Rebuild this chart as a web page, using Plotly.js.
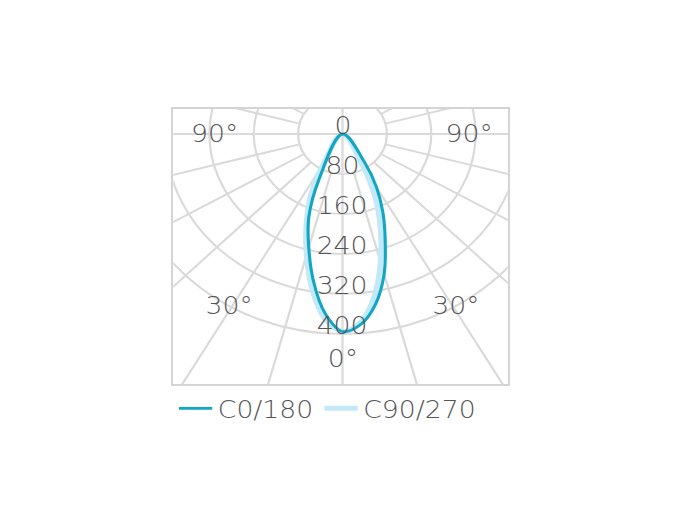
<!DOCTYPE html>
<html>
<head>
<meta charset="utf-8">
<script src="https://cdn.plot.ly/plotly-3.0.1.min.js"></script>
<style>
html,body{margin:0;padding:0;background:#fff;overflow:hidden;}
#wrap{width:680px;height:510px;overflow:hidden;}
#chart{width:612px;height:510px;transform:scaleX(1.1111111);transform-origin:0 0;}
</style>
</head>
<body>
<div id="wrap"><div id="chart"></div></div>
<script>
// Photometric polar diagram (cd), angles measured from nadir
const angles = [0,5,10,15,20,25,30,35,40,45,50,55,60,65,70,75,80,85,90];
const c0   = [395,382,345,290,225,172,122,70,0,0,0,0,0,0,0,0,0,0,0];
const c180 = [395,360,300,235,178,100,0,0,0,0,0,0,0,0,0,0,0,0,0];
const c90  = [395,378,330,265,200,140,72,0,0,0,0,0,0,0,0,0,0,0,0];
const c270 = [395,370,315,250,190,135,67,0,0,0,0,0,0,0,0,0,0,0,0];
const seriesNames = ['C0/180','C90/270'];
const ringValues = [80,160,240,320,400];
const ringLabels = ['0','80','160','240','320','400'];
const gridAngles = [0,15,30,45,60,75,90,105,120,135,150,165,180,195,210,225,240,255,270,285,300,315,330,345];
const angleLabels = ['90°','90°','30°','30°','0°'];
const angleLabelPos = [[-229,0],[229,0],[-204,-344],[204,-344],[0,-450]];

const rad = d => d*Math.PI/180;
function lastIdx(vals){ let i=0; while(i<vals.length-1 && vals[i]>0) i++; return i; }
function curve(leftVals, rightVals){
  const x=[], y=[];
  for(let i=lastIdx(leftVals);i>=0;i--){ const t=rad(angles[i]); x.push(-leftVals[i]*Math.sin(t)); y.push(-leftVals[i]*Math.cos(t)); }
  for(let i=1;i<=lastIdx(rightVals);i++){ const t=rad(angles[i]); x.push(rightVals[i]*Math.sin(t)); y.push(-rightVals[i]*Math.cos(t)); }
  return {x,y};
}
const d1 = curve(c180, c0), d2 = curve(c270, c90);
const traces = [
  {type:'scatter', mode:'lines', name:seriesNames[1], x:d2.x, y:d2.y, line:{color:'#c3e8f8', width:5, shape:'spline', smoothing:1}, hoverinfo:'skip'},
  {type:'scatter', mode:'lines', name:seriesNames[0], x:d1.x, y:d1.y, line:{color:'#11a6c2', width:2.8, shape:'spline', smoothing:1}, hoverinfo:'skip'}
];
const grid = '#dadada';
const shapes = [];
ringValues.forEach(r=>shapes.push({type:'circle', xref:'x', yref:'y', x0:-r, x1:r, y0:-r, y1:r, line:{color:grid, width:2}, layer:'below'}));
gridAngles.forEach(a=>{
  const t=rad(a); const full = (a%90===0);
  const r0 = full?0:80, r1=1200;
  shapes.push({type:'line', xref:'x', yref:'y', x0:r0*Math.sin(t), y0:-r0*Math.cos(t), x1:r1*Math.sin(t), y1:-r1*Math.cos(t), line:{color:grid, width:2}, layer:'below'});
});
const font = {family:'DejaVu Sans, sans-serif', size:24, color:'#555658', weight:200};
const annotations = [];
ringLabels.forEach(v=>annotations.push({x:0, y:-Number(v), xref:'x', yref:'y', text:v, showarrow:false, yshift:8, font:font, xanchor:'center', yanchor:'middle'}));
angleLabels.forEach((t,i)=>annotations.push({x:angleLabelPos[i][0], y:angleLabelPos[i][1], xref:'x', yref:'y', text:t, showarrow:false, font:font, xanchor:'center', yanchor:'middle'}));

const layout = {
  width:612, height:510,
  margin:{l:156, r:155, t:109, b:126},
  paper_bgcolor:'#fff', plot_bgcolor:'#fff',
  xaxis:{range:[-305,298], showgrid:false, zeroline:false, showticklabels:false, ticks:'', showline:true, mirror:true, linecolor:'#d4d4d4', linewidth:2, fixedrange:true},
  yaxis:{range:[-500,50], showgrid:false, zeroline:false, showticklabels:false, ticks:'', showline:true, mirror:true, linecolor:'#d4d4d4', linewidth:2, fixedrange:true},
  shapes:shapes,
  annotations:annotations,
  showlegend:true,
  legend:{orientation:'h', x:0, xanchor:'left', y:-0.09, yanchor:'middle', traceorder:'reversed', font:font, itemwidth:30, bgcolor:'rgba(0,0,0,0)'}
};
Plotly.newPlot('chart', traces, layout, {displayModeBar:false, staticPlot:true});
</script>
</body>
</html>
